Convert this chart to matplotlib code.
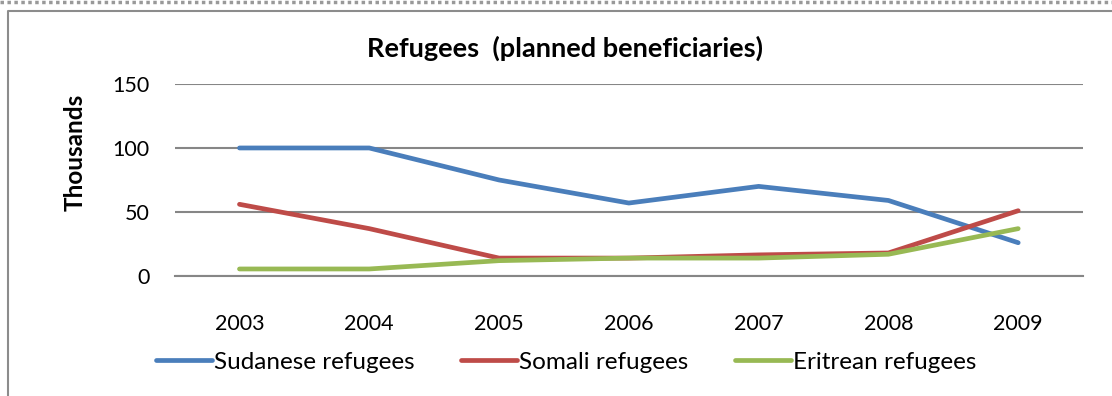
import matplotlib.pyplot as plt
from matplotlib.lines import Line2D

plt.rcParams['font.family'] = ['Lato', 'DejaVu Sans']

years = ['2003', '2004', '2005', '2006', '2007', '2008', '2009']
sudanese = [100, 100, 75, 57, 70, 59, 26]
somali = [56, 37, 14, 14, 16.5, 18, 51]
eritrean = [5.5, 5.5, 12, 14, 14, 17, 37]

fig = plt.figure(figsize=(11.12, 3.96), dpi=100)
ax = fig.add_axes([0.157, 0.303, 0.817, 0.485])

x = range(len(years))
ax.plot(x, sudanese, color='#4A7EBB', lw=3.4, solid_capstyle='round', label='Sudanese refugees')
ax.plot(x, somali, color='#BE4B48', lw=3.4, solid_capstyle='round', label='Somali refugees')
ax.plot(x, eritrean, color='#98B954', lw=3.4, solid_capstyle='round', label='Eritrean refugees')

ax.set_xlim(-0.5, 6.5)
ax.set_ylim(0, 150)
ax.set_yticks([0, 50, 100, 150])
ax.set_xticks(list(x))
ax.set_xticklabels(years)
ax.yaxis.grid(True, color='#868686', lw=1.5)
ax.set_axisbelow(True)
for s in ['top', 'right', 'left']:
    ax.spines[s].set_visible(False)
ax.spines['bottom'].set_color('#868686')
ax.spines['bottom'].set_linewidth(1.5)
ax.tick_params(length=0, labelsize=15.5)
ax.tick_params(axis='x', pad=27)
ax.tick_params(axis='y', pad=18)

fig.text(75 / 1112, 1 - 152 / 396, 'Thousands', rotation=90, ha='center', va='center',
         fontsize=17.5, fontweight='bold')
fig.text(0.508, 0.879, 'Refugees  (planned beneficiaries)', ha='center', va='center',
         fontsize=19.5, fontweight='bold')

ax.legend(loc='center', bbox_to_anchor=(0.431, -0.448), ncol=3, frameon=False,
          fontsize=17.5, handlelength=2.3, handletextpad=0.1, columnspacing=1.9)

# outer chart frame and dotted border
fig.add_artist(Line2D([0, 1], [0.994, 0.994], color='#999999', lw=2.5, ls=(0, (1, 1))))
fig.add_artist(Line2D([0.0075, 0.0075, 1], [0, 0.973, 0.973], color='#8c8c8c', lw=1.5))

fig.savefig('out.png')
